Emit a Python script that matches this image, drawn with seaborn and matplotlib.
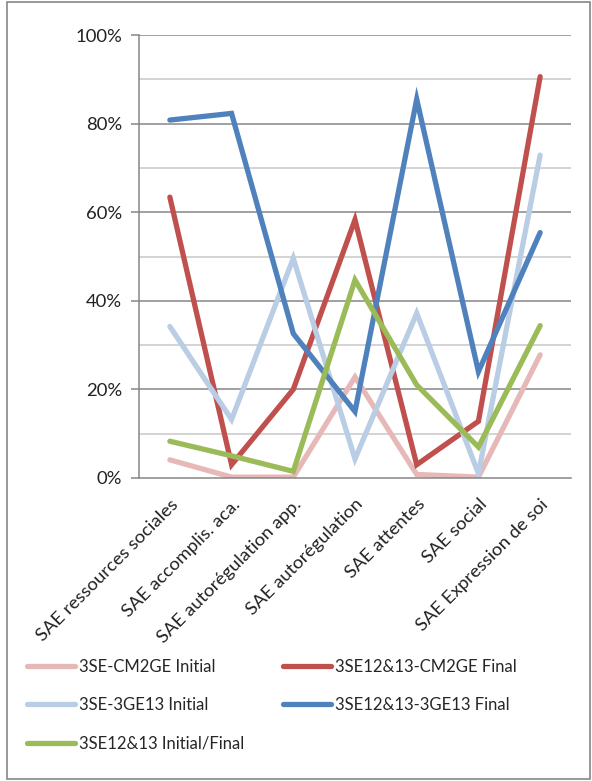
import numpy as np
import pandas as pd
import matplotlib
matplotlib.use('Agg')
import matplotlib.pyplot as plt
import seaborn as sns
from matplotlib.ticker import PercentFormatter, MultipleLocator
from matplotlib.patches import Rectangle

# ===============================
# DATA
# ===============================
categories = ['SAE ressources sociales', 'SAE accomplis. aca.',
              'SAE autorégulation app.', 'SAE autorégulation',
              'SAE attentes', 'SAE social', 'SAE Expression de soi']

cm2ge_initial = [4.1, 0.2, 0.2, 22.8, 0.8, 0.2, 27.8]
cm2ge_final = [63.4, 3.0, 20.0, 58.3, 3.0, 12.8, 90.6]
ge13_initial = [34.2, 13.2, 49.6, 4.3, 37.2, 1.0, 72.9]
ge13_final = [80.8, 82.3, 32.6, 15.0, 85.5, 24.0, 55.4]
initial_final = [8.3, 5.0, 1.5, 44.7, 21.0, 7.0, 34.4]

series_names = ['3SE-CM2GE Initial', '3SE12&13-CM2GE Final',
                '3SE-3GE13 Initial', '3SE12&13-3GE13 Final',
                '3SE12&13 Initial/Final']
series_values = [cm2ge_initial, cm2ge_final, ge13_initial, ge13_final, initial_final]
colors = ['#E6B9B8', '#C0504D', '#B9CDE5', '#4F81BD', '#9BBB59']

rows = []
for name, vals in zip(series_names, series_values):
    for i, v in enumerate(vals):
        rows.append({'pos': i, 'value': v, 'series': name})
df = pd.DataFrame(rows)

# ===============================
# PLOT
# ===============================
sns.set_theme(style='white')
plt.rcParams['font.family'] = ['Lato', 'DejaVu Sans']

fig = plt.figure(figsize=(5.92, 7.81), dpi=100)
ax = fig.add_axes([139/592, 1 - 478/781, (571 - 139)/592, (478 - 35)/781])

# gridlines
for y in np.arange(10, 101, 10):
    major = (y % 20 == 0)
    ax.axhline(y, color='#868686' if major else '#C8C8C8', lw=1.1, zorder=0)

sns.lineplot(data=df, x='pos', y='value', hue='series', hue_order=series_names,
             palette=colors, linewidth=3.8, sort=False, ax=ax, legend=False,
             solid_capstyle='round', solid_joinstyle='miter')

ax.set_xlim(-0.5, len(categories) - 0.5)
ax.set_ylim(0, 100)
ax.yaxis.set_major_locator(MultipleLocator(20))
ax.yaxis.set_major_formatter(PercentFormatter(decimals=0))
ax.set_xticks(range(len(categories)))
ax.set_xticklabels(categories, rotation=45, ha='right', rotation_mode='anchor',
                   fontsize=13.3, color='#222222')
ax.set_xticks(np.arange(-0.5, len(categories), 1), minor=True)
ax.tick_params(axis='x', which='major', length=0, pad=13)
ax.tick_params(axis='x', which='minor', length=6, width=1.1, color='#868686',
               direction='out')
ax.tick_params(axis='y', length=6, width=1.1, color='#868686', labelsize=13.3,
               labelcolor='#222222', pad=6, left=True)
ax.set_xlabel('')
ax.set_ylabel('')
for s in ['top', 'right']:
    ax.spines[s].set_visible(False)
for s in ['left', 'bottom']:
    ax.spines[s].set_color('#868686')
    ax.spines[s].set_linewidth(1.1)

# legend (column-major fill)
handles = [plt.Line2D([], [], color=c, lw=3.8, solid_capstyle='round') for c in colors]
order = [0, 2, 4, 1, 3]
fig.legend([handles[i] for i in order], [series_names[i] for i in order],
           loc='upper left', bbox_to_anchor=(20/592, 1 - 652/781), ncol=2,
           frameon=False, fontsize=12, handlelength=2.9, handletextpad=0.25,
           labelspacing=1.35, columnspacing=2.3, borderaxespad=0)

# chart border
fig.patches.append(Rectangle((7/592, 2/781), 583/592, 777/781, transform=fig.transFigure,
                             fill=False, edgecolor='#868686', lw=1.2))

plt.savefig('out.png', dpi=100)
plt.close()
